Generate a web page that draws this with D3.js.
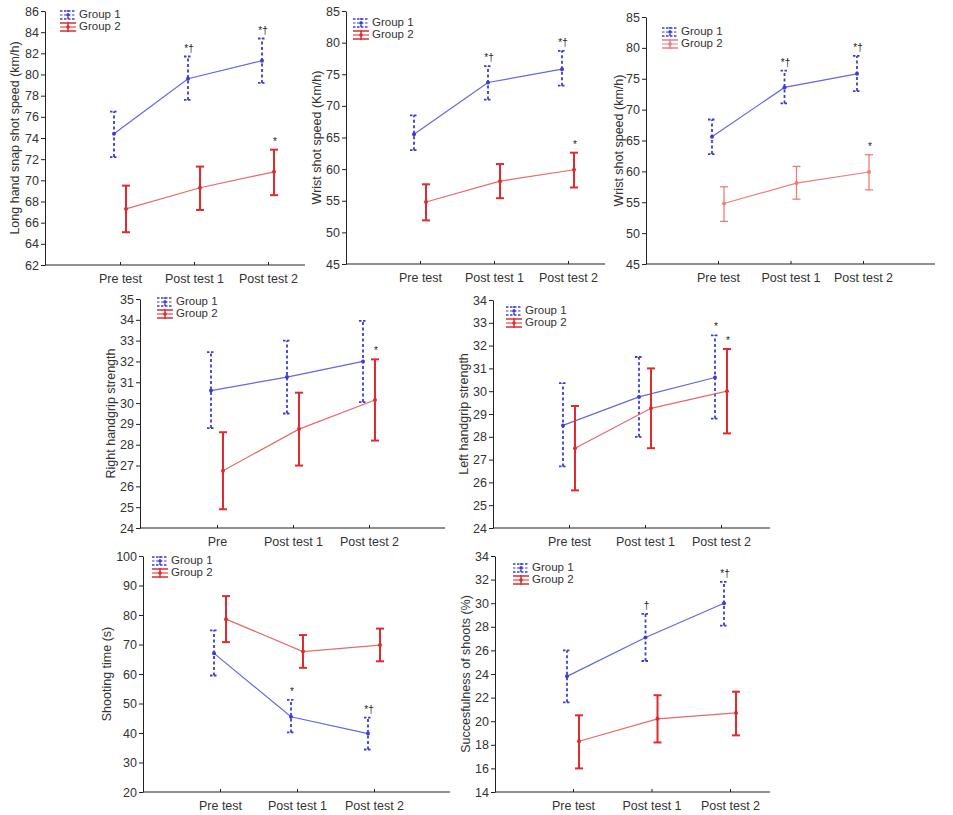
<!DOCTYPE html>
<html>
<head>
<meta charset="utf-8">
<script src="https://cdn.jsdelivr.net/npm/d3@7"></script>
<style>
  body { margin: 0; background: #fff; }
  svg { display: block; font-family: "Liberation Sans", Arial, sans-serif; }
</style>
</head>
<body>
<svg width="953" height="815"></svg>
<script>
// ---- data ----
const catsTest = ["Pre test", "Post test 1", "Post test 2"];
const catsPre = ["Pre", "Post test 1", "Post test 2"];

// long hand snap shot speed
const snapG1 = [74.4, 79.6, 81.3], snapG1Lo = [72.2, 77.6, 79.2], snapG1Hi = [76.5, 81.7, 83.4];
const snapG2 = [67.3, 69.3, 70.8], snapG2Lo = [65.1, 67.2, 68.6], snapG2Hi = [69.5, 71.3, 72.9];

// wrist shot speed (Km/h)
const wristG1 = [65.5, 73.7, 75.8], wristG1Lo = [63.0, 71.0, 73.2], wristG1Hi = [68.5, 76.3, 78.7];
const wristG2 = [54.8, 58.1, 59.9], wristG2Lo = [51.9, 55.4, 57.1], wristG2Hi = [57.6, 60.8, 62.6];

// wrist shot speed (km/h), second version
const wrist2G1 = [65.6, 73.6, 75.8], wrist2G1Lo = [62.8, 71.0, 73.0], wrist2G1Hi = [68.4, 76.3, 78.7];
const wrist2G2 = [54.8, 58.1, 59.9], wrist2G2Lo = [51.9, 55.5, 57.0], wrist2G2Hi = [57.5, 60.8, 62.7];

// right handgrip strength
const rightG1 = [30.6, 31.25, 32.0], rightG1Lo = [28.8, 29.5, 30.05], rightG1Hi = [32.45, 33.0, 33.95];
const rightG2 = [26.75, 28.75, 30.15], rightG2Lo = [24.9, 27.0, 28.2], rightG2Hi = [28.6, 30.5, 32.1];

// left handgrip strength
const leftG1 = [28.5, 29.75, 30.6], leftG1Lo = [26.7, 28.0, 28.8], leftG1Hi = [30.35, 31.5, 32.45];
const leftG2 = [27.5, 29.25, 30.0], leftG2Lo = [25.65, 27.5, 28.15], leftG2Hi = [29.35, 31.0, 31.85];

// shooting time
const timeG1 = [67.0, 45.5, 39.8], timeG1Lo = [59.5, 40.2, 34.4], timeG1Hi = [74.8, 51.2, 45.2];
const timeG2 = [78.6, 67.6, 69.8], timeG2Lo = [70.8, 62.1, 64.3], timeG2Hi = [86.4, 73.2, 75.4];

// successfulness of shoots
const succG1 = [23.8, 27.1, 30.0], succG1Lo = [21.6, 25.1, 28.1], succG1Hi = [26.0, 29.1, 31.8];
const succG2 = [18.3, 20.2, 20.7], succG2Lo = [16.0, 18.2, 18.8], succG2Hi = [20.5, 22.2, 22.5];

// significance marks above each point
const snapMarkG1 = ["", "*\u2020", "*\u2020"], snapMarkG2 = ["", "", "*"];
const wristMarkG1 = ["", "*\u2020", "*\u2020"], wristMarkG2 = ["", "", "*"];
const rightMarkG1 = ["", "", ""], rightMarkG2 = ["", "", "*"];
const leftMarkG1 = ["", "", "*"], leftMarkG2 = ["", "", "*"];
const timeMarkG1 = ["", "*", "*\u2020"], timeMarkG2 = ["", "", ""];
const succMarkG1 = ["", "\u2020", "*\u2020"], succMarkG2 = ["", "", ""];

const legendNames = ["Group 1", "Group 2"];

// ---- panels ----
const panels = [
  { title: "Long hand snap shot speed (km/h)", cats: catsTest, yDom: [62, 86], yStep: 2,
    g1: [snapG1, snapG1Lo, snapG1Hi, snapMarkG1], g2: [snapG2, snapG2Lo, snapG2Hi, snapMarkG2],
    ax: 45, axEnd: 305, top: 11, bot: 265, c0: 120, c2: 268, labX: 16, leg: [60, 15], legNames: legendNames },
  { title: "Wrist shot speed (Km/h)", cats: catsTest, yDom: [45, 85], yStep: 5,
    g1: [wristG1, wristG1Lo, wristG1Hi, wristMarkG1], g2: [wristG2, wristG2Lo, wristG2Hi, wristMarkG2],
    ax: 346, axEnd: 605, top: 11, bot: 264, c0: 420, c2: 568, labX: 318, leg: [353, 23], legNames: legendNames },
  { title: "Wrist shot speed (km/h)", cats: catsTest, yDom: [45, 85], yStep: 5, light: true,
    g1: [wrist2G1, wrist2G1Lo, wrist2G1Hi, wristMarkG1], g2: [wrist2G2, wrist2G2Lo, wrist2G2Hi, wristMarkG2],
    ax: 646, axEnd: 935, top: 17, bot: 264, c0: 718, c2: 863, labX: 620, leg: [662, 32], legNames: legendNames },
  { title: "Right handgrip strength", cats: catsPre, yDom: [24, 35], yStep: 1,
    g1: [rightG1, rightG1Lo, rightG1Hi, rightMarkG1], g2: [rightG2, rightG2Lo, rightG2Hi, rightMarkG2],
    ax: 140, axEnd: 445, top: 299, bot: 528, c0: 217, c2: 369, labX: 112, leg: [157, 302], legNames: ["Group 1", "Group  2"] },
  { title: "Left handgrip strength", cats: catsTest, yDom: [24, 34], yStep: 1,
    g1: [leftG1, leftG1Lo, leftG1Hi, leftMarkG1], g2: [leftG2, leftG2Lo, leftG2Hi, leftMarkG2],
    ax: 493, axEnd: 770, top: 300, bot: 528, c0: 569, c2: 721, labX: 465, leg: [506, 311], legNames: legendNames },
  { title: "Shooting time (s)", cats: catsTest, yDom: [20, 100], yStep: 10,
    g1: [timeG1, timeG1Lo, timeG1Hi, timeMarkG1], g2: [timeG2, timeG2Lo, timeG2Hi, timeMarkG2],
    ax: 143, axEnd: 450, top: 556, bot: 792, c0: 220, c2: 374, labX: 108, leg: [152, 561], legNames: legendNames },
  { title: "Succesfulness of shoots (%)", cats: catsTest, yDom: [14, 34], yStep: 2,
    g1: [succG1, succG1Lo, succG1Hi, succMarkG1], g2: [succG2, succG2Lo, succG2Hi, succMarkG2],
    ax: 495, axEnd: 770, top: 556, bot: 792, c0: 573, c2: 730, labX: 467, leg: [513, 568], legNames: legendNames }
];

const svg = d3.select("svg");
const blue = "#3c3cd6", blueLine = "#6666e0";
const red = "#dd2b2f", redLine = "#e86a6a", redLight = "#ec7d7d";
const off = 6;   // horizontal offset between the two groups

panels.forEach(p => {
  const g = svg.append("g");
  const x = d3.scaleLinear().domain([0, 2]).range([p.c0, p.c2]);
  const y = d3.scaleLinear().domain(p.yDom).range([p.bot, p.top]);

  // y axis
  const yAxis = d3.axisLeft(y)
    .tickValues(d3.range(p.yDom[0], p.yDom[1] + 0.001, p.yStep))
    .tickSizeOuter(0).tickSizeInner(4).tickPadding(2);
  const ya = g.append("g").attr("transform", `translate(${p.ax},0)`).call(yAxis);
  ya.select(".domain").attr("stroke", "#222");
  ya.selectAll(".tick line").attr("stroke", "#222");
  ya.selectAll("text").attr("font-size", 12.5).attr("fill", "#333")
    .attr("font-family", "Liberation Sans, Arial, sans-serif");

  // x axis
  g.append("line").attr("x1", p.ax).attr("x2", p.axEnd)
    .attr("y1", p.bot).attr("y2", p.bot).attr("stroke", "#222").attr("stroke-width", 1.2);
  const xAxis = d3.axisBottom(x).tickValues([0, 1, 2]).tickFormat(i => p.cats[i])
    .tickSizeInner(-3).tickSizeOuter(0).tickPadding(9);
  const xa = g.append("g").attr("transform", `translate(0,${p.bot})`).call(xAxis);
  xa.select(".domain").remove();
  xa.selectAll(".tick line").attr("stroke", "#222");
  xa.selectAll("text").attr("font-size", 12.5).attr("fill", "#333")
    .attr("font-family", "Liberation Sans, Arial, sans-serif");

  // y title
  g.append("text")
    .attr("transform", `translate(${p.labX},${(p.top + p.bot) / 2}) rotate(-90)`)
    .attr("text-anchor", "middle").attr("dominant-baseline", "middle")
    .attr("font-size", 12.5).attr("fill", "#333").text(p.title);

  const groups = [
    { d: p.g1, dx: -off, bar: blue, line: blueLine, dash: "3,2.5", w: 1.8 },
    { d: p.g2, dx: off, bar: p.light ? redLight : red, line: p.light ? redLight : redLine, dash: null, w: p.light ? 1.3 : 2 }
  ];

  groups.forEach(s => {
    const [mean, lo, hi, marks] = s.d;
    const idx = [0, 1, 2];
    g.append("path")
      .attr("d", d3.line().x(i => x(i) + s.dx).y(i => y(mean[i]))(idx))
      .attr("fill", "none").attr("stroke", s.line).attr("stroke-width", 1.2);

    const eb = g.append("g");
    idx.forEach(i => {
      const cx = x(i) + s.dx;
      eb.append("line").attr("x1", cx).attr("x2", cx)
        .attr("y1", y(lo[i])).attr("y2", y(hi[i]))
        .attr("stroke", s.bar).attr("stroke-width", s.w).attr("stroke-dasharray", s.dash);
      [lo[i], hi[i]].forEach(v => {
        eb.append("line").attr("x1", cx - 4).attr("x2", cx + 4)
          .attr("y1", y(v)).attr("y2", y(v))
          .attr("stroke", s.bar).attr("stroke-width", s.w).attr("stroke-dasharray", s.dash ? "2.5,1.5" : null);
      });
      eb.append("circle").attr("cx", cx).attr("cy", y(mean[i])).attr("r", 2).attr("fill", s.bar);
      if (marks[i]) {
        eb.append("text").attr("x", cx + 1).attr("y", y(hi[i]) - 5)
          .attr("text-anchor", "middle").attr("font-size", 10).attr("fill", "#222")
          .text(marks[i]);
      }
    });
  });

  // legend
  const lg = g.append("g").attr("transform", `translate(${p.leg[0]},${p.leg[1]})`);
  groups.forEach((s, k) => {
    const yy = k * 12;
    const row = lg.append("g").attr("transform", `translate(0,${yy})`);
    [-4, 0, 4].forEach(h => {
      row.append("line").attr("x1", 0).attr("x2", 16).attr("y1", h).attr("y2", h)
        .attr("stroke", s.bar).attr("stroke-width", h === 0 ? 1 : 1.5)
        .attr("stroke-dasharray", s.dash ? "2.5,1.5" : null);
    });
    row.append("line").attr("x1", 8).attr("x2", 8).attr("y1", -5).attr("y2", 5)
      .attr("stroke", s.bar).attr("stroke-width", 1.5).attr("stroke-dasharray", s.dash ? "2,1.5" : null);
    row.append("circle").attr("cx", 8).attr("cy", 0).attr("r", 1.8).attr("fill", s.bar);
    row.append("text").attr("x", 19).attr("y", 0).attr("dominant-baseline", "middle")
      .attr("font-size", 11.5).attr("fill", "#333").text(p.legNames[k]);
  });
});
</script>
</body>
</html>
